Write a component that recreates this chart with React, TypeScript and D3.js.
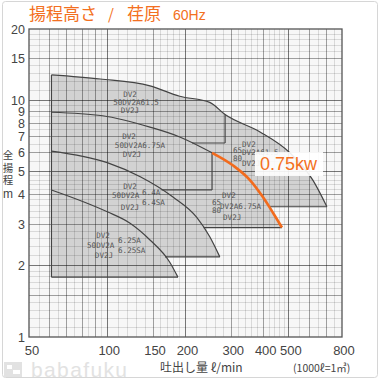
import React from 'react';
import * as d3 from 'd3';

// ---------- data ----------
const xTicks = [50, 100, 150, 200, 300, 400, 500, 800];
const yTicks = [1, 2, 3, 4, 5, 6, 7, 8, 9, 10, 15, 20];

// H-Q curves (Q: l/min, H: m)
const c1Q = [61, 94, 146, 190, 248, 284, 387, 504, 618, 700];
const c1H = [12.8, 12.3, 11.5, 10.4, 9.8, 8.7, 7.35, 6.0, 4.6, 3.55];
const c2Q = [61, 96, 146, 190, 253];
const c2H = [8.9, 8.6, 7.7, 7.0, 6.0];
const orangeQ = [253, 305, 354, 397, 434, 470];
const orangeH = [6.0, 5.3, 4.6, 3.9, 3.35, 2.9];
const c3Q = [61, 100, 134, 179, 221, 248, 271];
const c3H = [6.1, 5.45, 4.75, 3.9, 3.2, 2.65, 2.18];
const c4Q = [61, 100, 122, 146, 174, 187];
const c4H = [4.18, 3.38, 3.03, 2.57, 2.07, 1.79];

// region dividers
const div1Q = 284; const div1H = 6.6;
const div2Q = 253; const div2H = 4.18;

const kwLabel = '0.75kw';

// ---------- scales ----------
const x = d3.scaleLog().domain([50, 800]).range([29, 342]);
const y = d3.scaleLog().domain([1, 20]).range([337, 29]);

const xMinor = [
  ...d3.range(55, 100, 5),
  ...d3.range(110, 200, 10),
  ...d3.range(220, 500, 20),
  ...d3.range(550, 800, 50),
];
const xMedium = [60, 70, 80, 90, 150, 300, 400, 600, 700];
const xMajor = [100, 200, 500];
const yMinor = [
  ...d3.range(1.1, 1.95, 0.1),
  ...d3.range(2.2, 4.95, 0.2),
  ...d3.range(5.5, 9.95, 0.5),
  ...d3.range(11, 19.5, 1),
];
const yMedium = [1.5, 3, 4, 6, 7, 8, 9, 15];
const yMajor = [2, 5, 10];

function zip(qs: number[], hs: number[]): [number, number][] {
  return qs.map((q, i) => [q, hs[i]]);
}
function qAt(qs: number[], hs: number[], h: number): number {
  for (let i = 0; i < qs.length - 1; i++) {
    if (hs[i] >= h && hs[i + 1] <= h) {
      const t = (Math.log(h) - Math.log(hs[i])) / (Math.log(hs[i + 1]) - Math.log(hs[i]));
      return Math.exp(Math.log(qs[i]) + t * (Math.log(qs[i + 1]) - Math.log(qs[i])));
    }
  }
  return qs[qs.length - 1];
}

const line = d3
  .line<[number, number]>()
  .x((d) => x(d[0]))
  .y((d) => y(d[1]))
  .curve(d3.curveMonotoneX);

function regionPath(pts: [number, number][]): string {
  const last = pts[pts.length - 1];
  return (line(pts) as string) + `L${x(c1Q[0])},${y(last[1])}Z`;
}

const p1 = zip(c1Q, c1H);
const p2 = zip(c2Q, c2H);
const pO = zip(orangeQ, orangeH);
const p2full = [...p2, ...pO.slice(1)];
const p3 = zip(c3Q, c3H);
const p4 = zip(c4Q, c4H);

const hLine = (q0: number, q1: number, h: number) => ({ x1: x(q0), x2: x(q1), y1: y(h), y2: y(h) });
const vLine = (q: number, h0: number, h1: number) => ({ x1: x(q), x2: x(q), y1: y(h0), y2: y(h1) });

export default function App() {
  const segs = [
    hLine(qAt(orangeQ, orangeH, c1H[c1H.length - 1]), c1Q[c1Q.length - 1], c1H[c1H.length - 1]),
    hLine(qAt(c3Q, c3H, orangeH[orangeH.length - 1]), orangeQ[orangeQ.length - 1], orangeH[orangeH.length - 1]),
    hLine(qAt(c4Q, c4H, c3H[c3H.length - 1]), c3Q[c3Q.length - 1], c3H[c3H.length - 1]),
    hLine(c4Q[0], c4Q[c4Q.length - 1], c4H[c4H.length - 1]),
    vLine(c1Q[0], c1H[0], c4H[c4H.length - 1]),
    vLine(div1Q, 8.7, div1H),
    hLine(qAt(c2Q, c2H, div1H), div1Q, div1H),
    vLine(div2Q, orangeH[0], div2H),
    hLine(qAt(c3Q, c3H, div2H), div2Q, div2H),
  ];
  const lab = { fontFamily: 'DejaVu Sans Mono', fontSize: 7.6, fill: '#555' } as const;
  const tick = { fontFamily: 'Liberation Sans, Arial, sans-serif', fontSize: 12.5, fill: '#444' } as const;
  return (
    <svg width={380} height={380} style={{ position: 'absolute', left: 0, top: 0, background: '#fff' }}>
      <rect x={2.5} y={1.5} width={375} height={376} rx={3} fill="#fff" stroke="#d6d6d6" />
      {/* title */}
      <g fill="#f37021" fontFamily="Noto Sans CJK JP" fontSize={17}>
        <text x={29} y={20}>揚程高さ</text>
        <text x={108} y={20} fontSize={15}>/</text>
        <text x={127} y={20}>荏原</text>
        <text x={173} y={20} fontSize={14} fontFamily="Liberation Sans, sans-serif">60Hz</text>
      </g>
      {/* plot background */}
      <rect x={29} y={29} width={313} height={308} fill="#f7f7f7" />
      {/* regions */}
      <g fill="#d2d2d2">
        <path d={regionPath(p1)} />
        <path d={regionPath(p2full)} />
        <path d={regionPath(p3)} />
        <path d={regionPath(p4)} />
      </g>
      {/* grid */}
      <g stroke="#000" shapeRendering="crispEdges">
        {xMinor.map((v) => (
          <line key={'xm' + v} x1={x(v)} x2={x(v)} y1={29} y2={337} strokeOpacity={0.12} />
        ))}
        {xMedium.map((v) => (
          <line key={'xd' + v} x1={x(v)} x2={x(v)} y1={29} y2={337} strokeOpacity={0.27} />
        ))}
        {xMajor.map((v) => (
          <line key={'xM' + v} x1={x(v)} x2={x(v)} y1={29} y2={337} strokeOpacity={0.52} />
        ))}
        {yMinor.map((v) => (
          <line key={'ym' + v} y1={y(v)} y2={y(v)} x1={29} x2={342} strokeOpacity={0.12} />
        ))}
        {yMedium.map((v) => (
          <line key={'yd' + v} y1={y(v)} y2={y(v)} x1={29} x2={342} strokeOpacity={0.27} />
        ))}
        {yMajor.map((v) => (
          <line key={'yM' + v} y1={y(v)} y2={y(v)} x1={29} x2={342} strokeOpacity={0.52} />
        ))}
      </g>
      <rect x={29} y={29} width={313} height={308} fill="none" stroke="#555" strokeWidth={1.3} />
      {/* curves */}
      <g fill="none" stroke="#444" strokeWidth={1.2}>
        <path d={line(p1) as string} />
        <path d={line(p2) as string} />
        <path d={line(p3) as string} />
        <path d={line(p4) as string} />
        {segs.map((s, i) => (
          <line key={i} {...s} />
        ))}
      </g>
      <path d={line(pO) as string} fill="none" stroke="#f26b1d" strokeWidth={2.6} />
      {/* region labels */}
      <g {...lab} textAnchor="middle">
        <text x={130} y={97}>DV2</text>
        <text x={136} y={105}>50DV2A61.5</text>
        <text x={130} y={113}>DV2J</text>
        <text x={129} y={139}>DV2</text>
        <text x={140} y={148}>50DV2A6.75A</text>
        <text x={132} y={157}>DV2J</text>
        <text x={130} y={189}>DV2</text>
        <text x={130} y={210}>DV2J</text>
        <text x={103} y={238}>DV2</text>
        <text x={104} y={258}>DV2J</text>
      </g>
      <g {...lab}>
        <text x={112} y={198}>50DV2A</text>
        <text x={142} y={195}>6.4A</text>
        <text x={142} y={205}>6.4SA</text>
        <text x={87} y={248}>50DV2A</text>
        <text x={118} y={243}>6.25A</text>
        <text x={118} y={253}>6.25SA</text>
        <text x={233} y={153}>65</text>
        <text x={242} y={147}>DV2</text>
        <text x={242} y={155}>DV2A61.5</text>
        <text x={233} y={161}>80</text>
        <text x={242} y={166}>DV2J</text>
        <text x={212} y={205}>65</text>
        <text x={222} y={198}>DV2</text>
        <text x={212} y={213}>80</text>
        <text x={220} y={209}>DV2A6.75A</text>
        <text x={223} y={220}>DV2J</text>
      </g>
      {/* kw label */}
      <rect x={255} y={152} width={68} height={24} fill="#fff" fillOpacity={0.9} />
      <text x={260} y={170} fill="#f37021" fontFamily="Liberation Sans, sans-serif" fontSize={18}>
        {kwLabel}
      </text>
      {/* y ticks */}
      <g {...tick} textAnchor="end">
        {yTicks.map((v) => (
          <text key={v} x={25} y={y(v) + 4.5}>
            {v}
          </text>
        ))}
      </g>
      <g fontFamily="Noto Sans CJK JP" fontSize={10.5} fill="#444" textAnchor="middle">
        <text x={8} y={159}>全</text>
        <text x={8} y={171.5}>揚</text>
        <text x={8} y={184}>程</text>
        <text x={8} y={198} fontFamily="Liberation Sans, sans-serif" fontSize={12}>m</text>
      </g>
      {/* x ticks */}
      <g {...tick} fontSize={13} textAnchor="middle">
        {xTicks.map((v) => (
          <text key={v} x={x(v) + (v === 50 ? 3 : 2)} y={355}>
            {v}
          </text>
        ))}
      </g>
      <text x={160} y={372} fontFamily="Noto Sans CJK JP" fontSize={12} fill="#444">
        吐出し量 ℓ/min
      </text>
      <text x={293} y={372} fontFamily="Noto Sans CJK JP" fontSize={10.5} fill="#444">
        (1000ℓ=1㎥)
      </text>
      {/* watermark */}
      <g fill="#e2e2e2">
        <rect x={4} y={362} width={18} height={15} />
        <rect x={7} y={365} width={5} height={4} fill="#fff" />
        <rect x={13} y={370} width={7} height={4} fill="#fff" />
      </g>
      <text x={31} y={377} fontFamily="Liberation Sans, sans-serif" fontSize={21} fill="#e2e2e2" textLength={96}>
        babafuku
      </text>
    </svg>
  );
}
